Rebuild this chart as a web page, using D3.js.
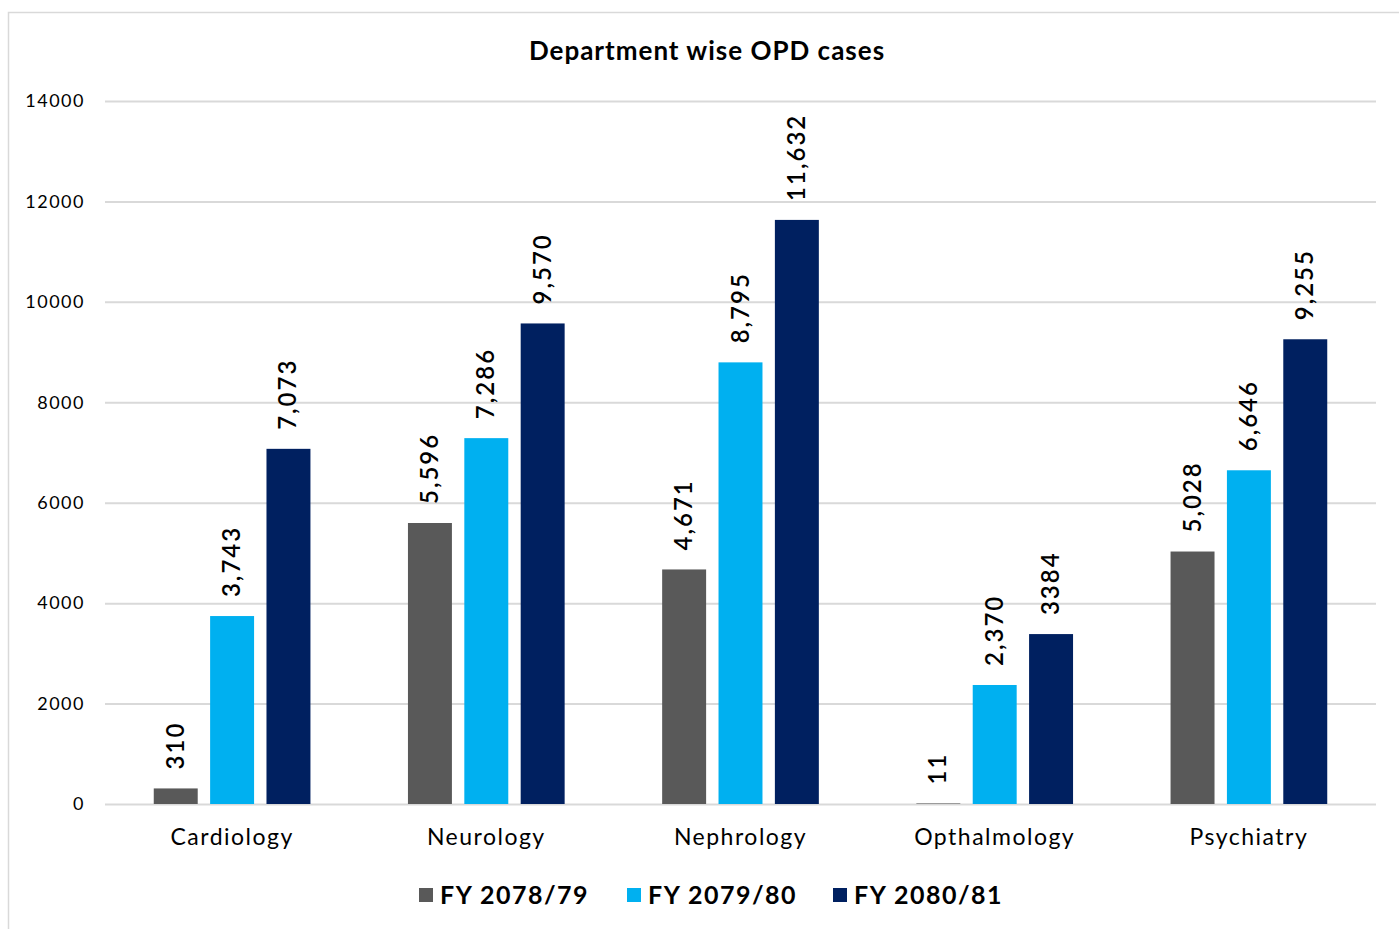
<!DOCTYPE html>
<html>
<head>
<meta charset="utf-8">
<script src="https://cdn.jsdelivr.net/npm/d3@7"></script>
<style>
  html, body { margin: 0; padding: 0; background: #fff; }
  body { font-family: 'Lato', 'DejaVu Sans', sans-serif; }
</style>
</head>
<body>
<div id="chart"></div>
<script>
// Department wise OPD cases, three fiscal years per department
const CATEGORIES = ['Cardiology', 'Neurology', 'Nephrology', 'Opthalmology', 'Psychiatry'];
const SERIES = ['FY 2078/79', 'FY 2079/80', 'FY 2080/81'];
const FY7879 = [310, 5596, 4671, 11, 5028];
const FY7980 = [3743, 7286, 8795, 2370, 6646];
const FY8081 = [7073, 9570, 11632, 3384, 9255];
const LABELS7879 = ['310', '5,596', '4,671', '11', '5,028'];
const LABELS7980 = ['3,743', '7,286', '8,795', '2,370', '6,646'];
const LABELS8081 = ['7,073', '9,570', '11,632', '3384', '9,255'];
const Y_TICKS = [0, 2000, 4000, 6000, 8000, 10000, 12000, 14000];

const COLORS = ['#595959', '#00B0F0', '#002060'];
const VALUES = [FY7879, FY7980, FY8081];
const LABELS = [LABELS7879, LABELS7980, LABELS8081];
const FONT = "'Lato', 'DejaVu Sans', sans-serif";

const W = 1399, H = 929;
const margin = { top: 101, right: 23, bottom: 125, left: 105 };
const innerW = W - margin.left - margin.right;
const innerH = H - margin.top - margin.bottom;

const data = [];
CATEGORIES.forEach((c, i) => {
  SERIES.forEach((s, j) => {
    data.push({ cat: c, series: s, idx: j, value: VALUES[j][i], label: LABELS[j][i] });
  });
});

const svg = d3.select('#chart').append('svg').attr('width', W).attr('height', H);

// outer frame
svg.append('rect')
  .attr('x', 8.5).attr('y', 12.5).attr('width', W + 10).attr('height', H)
  .attr('fill', 'none').attr('stroke', '#d9d9d9').attr('stroke-width', 1.5);

svg.append('text')
  .attr('x', 707).attr('y', 60)
  .attr('text-anchor', 'middle')
  .attr('fill', '#000').style('font-size', '26px').style('font-weight', 'bold')
  .style('letter-spacing', '1px')
  .text('Department wise OPD cases');

const g = svg.append('g').attr('transform', `translate(${margin.left},${margin.top})`);

const x0 = d3.scaleBand().domain(CATEGORIES).range([0, innerW]).padding(0);
const x1 = d3.scaleBand().domain(SERIES).range([0, x0.bandwidth()])
  .paddingInner(0.22).paddingOuter(0.865);
const y = d3.scaleLinear().domain([0, 14000]).range([innerH, 0]);

// Grid + y labels
g.append('g')
  .call(d3.axisLeft(y).tickValues(Y_TICKS).tickFormat(d3.format('d')).tickSize(0).tickPadding(20))
  .call(ax => ax.select('.domain').remove())
  .call(ax => ax.selectAll('.tick').append('line')
    .attr('x2', innerW).attr('stroke', '#d9d9d9').attr('stroke-width', 2))
  .call(ax => ax.selectAll('text').attr('fill', '#000')
    .style('font-size', '18px').style('letter-spacing', '1.5px').style('font-family', FONT));

// X axis labels
g.append('g')
  .attr('transform', `translate(0,${innerH})`)
  .call(d3.axisBottom(x0).tickSize(0).tickPadding(25))
  .call(ax => ax.select('.domain').remove())
  .call(ax => ax.selectAll('text').attr('fill', '#000')
    .style('font-size', '23px').style('letter-spacing', '1.5px').style('font-family', FONT));

// Bars
g.selectAll('rect.bar')
  .data(data)
  .join('rect')
  .attr('class', 'bar')
  .attr('x', d => x0(d.cat) + x1(d.series))
  .attr('y', d => y(d.value))
  .attr('width', x1.bandwidth())
  .attr('height', d => innerH - y(d.value))
  .attr('fill', d => COLORS[d.idx]);

// Value labels (rotated)
g.selectAll('text.val')
  .data(data)
  .join('text')
  .attr('class', 'val')
  .attr('transform', d => `translate(${x0(d.cat) + x1(d.series) + x1.bandwidth() / 2 + 8},${y(d.value) - 19}) rotate(-90)`)
  .attr('text-anchor', 'start')
  .attr('fill', '#000')
  .style('font-size', '24px').style('font-weight', '600').style('letter-spacing', '2px')
  .text(d => d.label);

// Legend
const legend = svg.append('g').attr('transform', 'translate(419,895)');
const lxs = [0, 208, 414];
SERIES.forEach((s, j) => {
  const lg = legend.append('g').attr('transform', `translate(${lxs[j]},0)`);
  lg.append('rect').attr('x', 0).attr('y', -7).attr('width', 14).attr('height', 14).attr('fill', COLORS[j]);
  lg.append('text').attr('x', 21).attr('y', 9)
    .attr('fill', '#000').style('font-size', '25px').style('font-weight', 'bold')
    .style('letter-spacing', '1.5px')
    .text(s);
});
</script>
</body>
</html>
